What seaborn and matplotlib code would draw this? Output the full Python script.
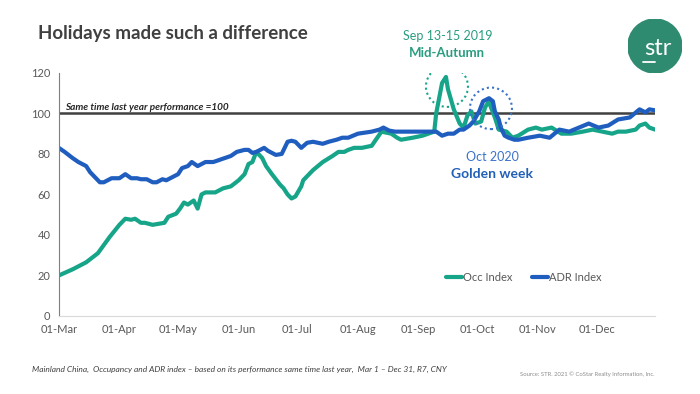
import pandas as pd
import matplotlib
matplotlib.use('Agg')
import matplotlib.pyplot as plt
import matplotlib.dates as mdates
from matplotlib.patches import Ellipse, Circle
import seaborn as sns

occ_dates = ['2020-03-01', '2020-03-08', '2020-03-15', '2020-03-21', '2020-03-27', '2020-04-01',
             '2020-04-04', '2020-04-07', '2020-04-09', '2020-04-12', '2020-04-14', '2020-04-18',
             '2020-04-21', '2020-04-24', '2020-04-26', '2020-04-30', '2020-05-02', '2020-05-04',
             '2020-05-06', '2020-05-09', '2020-05-11', '2020-05-13', '2020-05-15', '2020-05-18',
             '2020-05-20', '2020-05-24', '2020-05-28', '2020-06-01', '2020-06-04', '2020-06-06',
             '2020-06-08', '2020-06-10', '2020-06-13', '2020-06-15', '2020-06-18', '2020-06-22',
             '2020-06-24', '2020-06-26', '2020-06-28', '2020-06-30', '2020-07-03', '2020-07-04',
             '2020-07-07', '2020-07-09', '2020-07-14', '2020-07-19', '2020-07-22', '2020-07-25',
             '2020-07-27', '2020-07-30', '2020-08-03', '2020-08-08', '2020-08-13', '2020-08-18',
             '2020-08-21', '2020-08-23', '2020-08-29', '2020-09-03', '2020-09-06', '2020-09-09',
             '2020-09-10', '2020-09-13', '2020-09-15', '2020-09-16', '2020-09-19', '2020-09-22',
             '2020-09-24', '2020-09-26', '2020-09-28', '2020-09-30', '2020-10-03', '2020-10-05',
             '2020-10-07', '2020-10-08', '2020-10-10', '2020-10-12', '2020-10-16', '2020-10-19',
             '2020-10-22', '2020-10-27', '2020-10-31', '2020-11-03', '2020-11-08', '2020-11-13',
             '2020-11-18', '2020-11-24', '2020-11-29', '2020-12-04', '2020-12-09', '2020-12-12',
             '2020-12-16', '2020-12-21', '2020-12-23', '2020-12-26', '2020-12-28', '2020-12-31']
occ_index = [20, 23, 26.5, 31, 39, 45,
             48, 47.5, 48, 46, 46, 45,
             45.5, 46, 49, 50.5, 53, 56,
             55, 57, 53, 60, 61, 61,
             61, 63, 64, 67, 70, 75,
             76, 81, 78, 74, 70, 65,
             63, 60, 58, 59, 64, 67,
             70, 72, 76, 79, 81, 81,
             82, 83, 83, 84, 91, 90,
             88, 87, 88, 89, 90, 91,
             100, 115, 118, 112, 102, 95,
             93, 99, 101, 95, 96, 103,
             106, 103, 98, 92, 91, 88,
             89, 92, 93, 92, 93, 90,
             90, 91, 92, 91, 90, 91,
             91, 92, 94, 95, 93, 92]

adr_dates = ['2020-03-01', '2020-03-04', '2020-03-08', '2020-03-11', '2020-03-15', '2020-03-17',
             '2020-03-20', '2020-03-22', '2020-03-24', '2020-03-26', '2020-03-28', '2020-04-01',
             '2020-04-04', '2020-04-07', '2020-04-10', '2020-04-12', '2020-04-15', '2020-04-18',
             '2020-04-20', '2020-04-23', '2020-04-25', '2020-04-27', '2020-05-01', '2020-05-03',
             '2020-05-06', '2020-05-08', '2020-05-11', '2020-05-15', '2020-05-19', '2020-05-25',
             '2020-05-28', '2020-05-31', '2020-06-04', '2020-06-06', '2020-06-08', '2020-06-10',
             '2020-06-12', '2020-06-14', '2020-06-16', '2020-06-20', '2020-06-23', '2020-06-26',
             '2020-06-28', '2020-06-30', '2020-07-03', '2020-07-06', '2020-07-09', '2020-07-14',
             '2020-07-17', '2020-07-21', '2020-07-24', '2020-07-27', '2020-08-01', '2020-08-08',
             '2020-08-12', '2020-08-14', '2020-08-17', '2020-08-20', '2020-08-25', '2020-08-31',
             '2020-09-05', '2020-09-10', '2020-09-13', '2020-09-16', '2020-09-19', '2020-09-22',
             '2020-09-24', '2020-09-27', '2020-09-29', '2020-10-02', '2020-10-04', '2020-10-07',
             '2020-10-09', '2020-10-10', '2020-10-12', '2020-10-13', '2020-10-15', '2020-10-17',
             '2020-10-20', '2020-10-22', '2020-10-27', '2020-11-02', '2020-11-07', '2020-11-12',
             '2020-11-17', '2020-11-22', '2020-11-27', '2020-12-02', '2020-12-07', '2020-12-12',
             '2020-12-18', '2020-12-23', '2020-12-26', '2020-12-28', '2020-12-31']
adr_index = [83, 81, 78, 76, 74, 71,
             68, 66, 66, 67, 68, 68,
             70, 68, 68, 67.5, 67.5, 66,
             66, 67.5, 67, 68, 70, 73,
             74, 76, 74, 76, 76, 78,
             79, 81, 82, 82, 80.5, 81,
             82, 83, 81.5, 79.5, 80, 86,
             86.5, 86, 83, 85.5, 86, 85,
             86, 87, 88, 88, 90, 91,
             92, 93, 91.5, 91, 91, 91,
             91, 91, 89, 90, 90, 92,
             92, 94, 96, 101, 106, 107.5,
             106, 101, 97, 93, 89, 88,
             87, 87, 88, 89, 88, 92,
             91, 93, 95, 93, 94, 97,
             98, 102, 100.5, 102, 101.5]

occ_color = '#17A589'
adr_color = '#1F5EBF'
text_grey = '#595959'

df_occ = pd.DataFrame({'date': pd.to_datetime(occ_dates), 'value': occ_index})
df_adr = pd.DataFrame({'date': pd.to_datetime(adr_dates), 'value': adr_index})

sns.set_style('white')
plt.rcParams['font.family'] = ['Lato', 'DejaVu Sans']

fig = plt.figure(figsize=(7, 3.94), dpi=100)
ax = fig.add_axes([0.084, 0.198, 0.852, 0.617])

sns.lineplot(data=df_occ, x='date', y='value', color=occ_color, linewidth=3, label='Occ Index', ax=ax)
sns.lineplot(data=df_adr, x='date', y='value', color=adr_color, linewidth=3, label='ADR Index', ax=ax)

ax.axhline(100, color='#404040', linewidth=1.8, zorder=1)
ax.text(pd.Timestamp('2020-03-04'), 101.5, 'Same time last year performance =100',
        fontsize=7.2, fontweight='bold', fontstyle='italic', color='#262626')

ax.set_ylim(0, 120)
ax.set_yticks(range(0, 121, 20))
ax.set_xlim(pd.Timestamp('2020-03-01'), pd.Timestamp('2020-12-31'))
ax.xaxis.set_major_locator(mdates.MonthLocator())
ax.xaxis.set_major_formatter(mdates.DateFormatter('%d-%b'))
ax.tick_params(axis='both', length=0, labelsize=8, colors=text_grey, pad=6)
ax.set_xlabel('')
ax.set_ylabel('')
for s in ['top', 'right']:
    ax.spines[s].set_visible(False)
ax.spines['left'].set_color('#7f7f7f')
ax.spines['left'].set_linewidth(0.8)
ax.spines['bottom'].set_color('#d9d9d9')
ax.spines['bottom'].set_linewidth(0.8)

# dotted circles around the holiday peaks
ax.add_patch(Ellipse((mdates.date2num(pd.Timestamp('2020-09-15 12:00')), 113.3), 21.5, 20.2,
                     fill=False, edgecolor=occ_color, linestyle=(0, (1, 1.5)), linewidth=1.5))
ax.add_patch(Ellipse((mdates.date2num(pd.Timestamp('2020-10-08')), 102.5), 21.5, 20.5,
                     fill=False, edgecolor='#3a72cc', linestyle=(0, (1, 1.5)), linewidth=1.5, zorder=5))

leg = ax.legend(loc='center', bbox_to_anchor=(0.78, 0.16), ncol=2, frameon=False, fontsize=8,
                handlelength=1.4, handletextpad=0.1, columnspacing=1.8)
for t in leg.get_texts():
    t.set_color(text_grey)

fig.text(0.054, 0.916, 'Holidays made such a difference', fontsize=13.5, fontweight='bold',
         color='#404040', va='center')

fig.text(0.639, 0.909, 'Sep 13-15 2019', fontsize=9, color='#2A9D80', ha='center', va='center')
fig.text(0.639, 0.865, 'Mid-Autumn', fontsize=9.5, fontweight='bold', color='#2A9D80', ha='center', va='center')
fig.text(0.703, 0.601, 'Oct 2020', fontsize=9, color='#3a72cc', ha='center', va='center')
fig.text(0.703, 0.558, 'Golden week', fontsize=10, fontweight='bold', color='#2260B8', ha='center', va='center')

fig.text(0.046, 0.063, 'Mainland China,  Occupancy and ADR index \u2013 based on its performance same time last year,  '
         'Mar 1 \u2013 Dec 31, R7, CNY', fontsize=6, fontstyle='italic', color='#404040', va='center')
fig.text(0.743, 0.051, 'Source: STR. 2021 \u00a9 CoStar Realty Information, Inc.', fontsize=4.2,
         color='#8c8c8c', va='center')

# logo
lax = fig.add_axes([0.897, 0.8147, 0.0771, 0.137])
lax.set_xlim(0, 1)
lax.set_ylim(0, 1)
lax.axis('off')
lax.add_patch(Circle((0.5, 0.5), 0.5, color='#2E8B70'))
lax.text(0.56, 0.333, 'str', color='white', fontsize=17, ha='center', va='baseline')
lax.plot([0.28, 0.5], [0.2, 0.2], color='white', linewidth=1.3)

fig.savefig('out.png', dpi=100)
